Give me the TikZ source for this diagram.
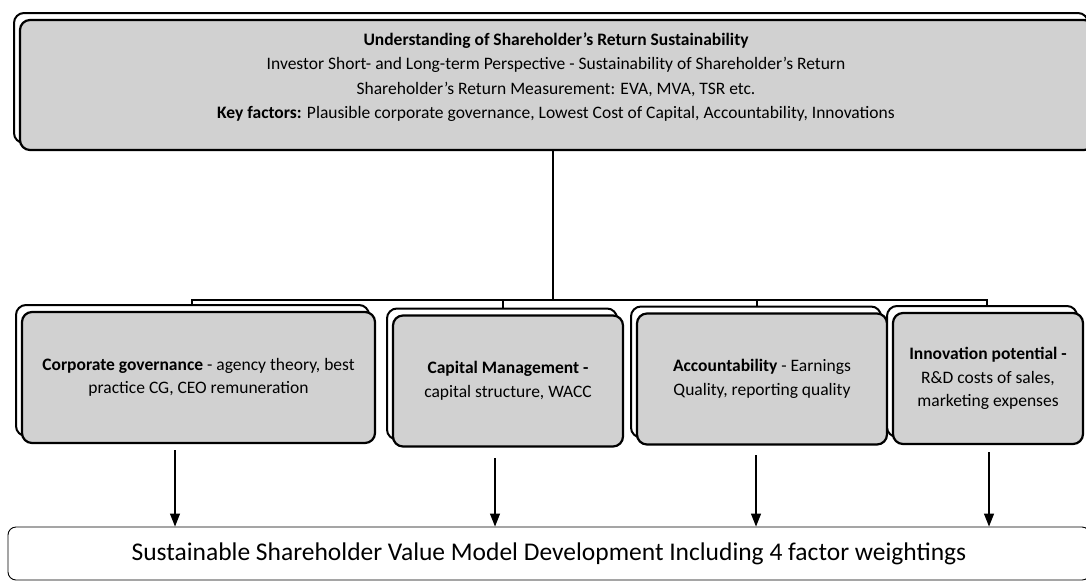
\documentclass[tikz,border=0pt]{standalone}
\usepackage{fontspec}
\setmainfont{Carlito}
\usetikzlibrary{shadows}
\usetikzlibrary{arrows.meta}
\tikzstyle{panel}=[rectangle,rounded corners=10pt,fill=black!18,draw=black,line width=2.2pt,align=center,
  general shadow={fill=white,draw=black,line width=2pt,shadow xshift=-6pt,shadow yshift=7pt}]
\tikzstyle{factor}=[panel,font=\fontsize{17.5}{23.5}\selectfont]
\tikzstyle{model}=[rectangle,rounded corners=8pt,fill=white,draw=black,line width=0.9pt,font=\fontsize{25.5}{30}\selectfont]
\tikzstyle{link} = [draw,line width=2.4pt]
\tikzstyle{flow} = [draw,line width=1.2pt,-{Triangle[length=13pt,width=10pt]}]

\begin{document}
\begin{tikzpicture}[x=1pt,y=-1pt]
    \useasboundingbox (0,0) rectangle (1086,581);

    \node[panel,minimum width=1074pt,minimum height=130pt] (top) at (557,85) {};
    \node[align=center,font=\fontsize{17.5}{24.3}\selectfont] (toptext) at (556,77)
        {\textbf{Understanding of Shareholder's Return Sustainability}\\
         Investor Short- and Long-term Perspective - Sustainability of Shareholder's Return\\
         Shareholder's Return Measurement: EVA, MVA, TSR etc.\\
         \textbf{Key factors:} Plausible corporate governance, Lowest Cost of Capital, Accountability, Innovations};

    \foreach \pos/\name/\w/\label in {{(198.5,377.5)/cg/353/{\textbf{Corporate governance} - agency theory, best\\practice CG, CEO remuneration}},
                                     {(508,381)/cm/230/{\textbf{Capital Management -}\\capital structure, WACC}},
                                     {(762,379)/acc/250/{\textbf{Accountability} - Earnings\\Quality, reporting quality}},
                                     {(988,378.5)/inn/190/{\textbf{Innovation potential -}\\R\&D costs of sales,\\marketing expenses}}}
        \node[factor,minimum width=\w pt,minimum height=131pt] (\name) at \pos {\label};

    \node[model,minimum width=1082pt,minimum height=53pt] (svm) at (549,553.5)
        {Sustainable Shareholder Value Model Development Including 4 factor weightings};

    % tree connector from the top panel down to the four factors
    \coordinate (bus) at (553,300);
    \path[link] (top.south -| bus) -- (bus);
    \path[link] (192,306) -- (192,300) -- (987,300) -- (987,306);
    \path[link] (503,300) -- (503,308);
    \path[link] (757,300) -- (757,306);

    % arrows into the model
    \foreach \name/\x/\y in {cg/175/450, cm/495/458, acc/756/455, inn/989/452}{
        \coordinate (a-\name) at (\x,\y);
        \path[flow] (a-\name) -- (a-\name |- svm.north);
    }
\end{tikzpicture}
\end{document}
